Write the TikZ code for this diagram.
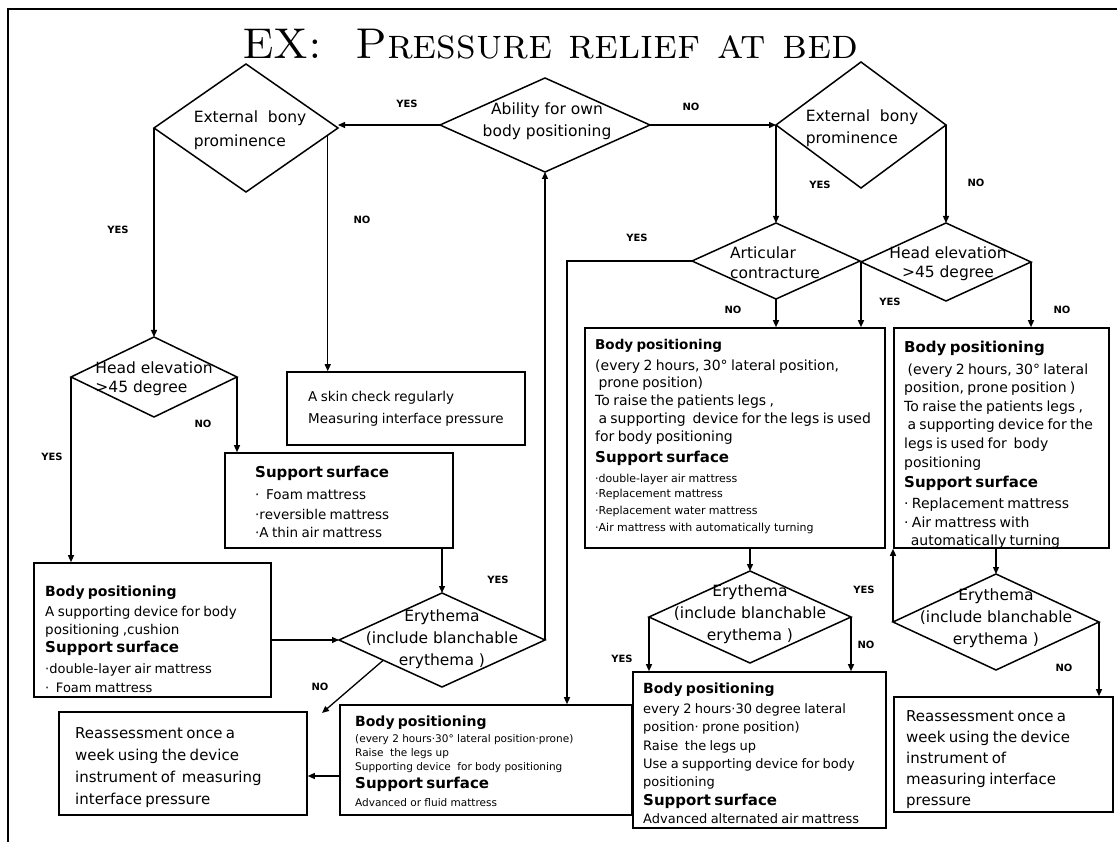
\documentclass[tikz,border=0pt]{standalone}
\usepackage{fontspec}
\setsansfont{DejaVu Sans}
\usetikzlibrary{shapes.geometric,arrows.meta,fit}
\newcommand\bline[3]{{\fontsize{#1}{#2}\selectfont #3\par}}
\begin{document}
\begin{tikzpicture}[x=1pt,y=-1pt,
  dia/.style={draw, diamond, inner sep=0pt, outer sep=0pt, line width=1.5pt},
  box/.style={draw, rectangle, inner sep=0pt, line width=1.6pt},
  txt/.style={inner sep=0pt, anchor=north west, align=left, text width=300pt, font=\sffamily},
  dtxt/.style={inner sep=0pt, font=\sffamily\fontsize{15.5}{22}\selectfont},
  lab/.style={inner sep=0pt, font=\sffamily\bfseries\fontsize{10}{12}\selectfont},
  arr/.style={line width=1.3pt, -{Triangle[length=7pt,width=6pt]}}]
\useasboundingbox (0,0) rectangle (1117,842);
% frame
\draw[line width=1.4pt] (8,842) -- (8,9) -- (1117,9);
% title
\node[inner sep=0pt, font=\rmfamily\fontsize{43}{43}\selectfont\scshape] (title) at (550,44) {EX:\ \ Pressure relief at bed};

% diamonds
\node[dia, minimum width=184pt, minimum height=128pt] (ext1) at (246,128) {};
\node[dia, minimum width=210pt, minimum height=94pt] (abil) at (545,125) {};
\node[dia, minimum width=170pt, minimum height=126pt] (ext2) at (861,125) {};
\node[dia, minimum width=168pt, minimum height=76pt] (artic) at (776,261) {};
\node[dia, minimum width=170pt, minimum height=78pt] (headR) at (946,262) {};
\node[dia, minimum width=166pt, minimum height=80pt] (headL) at (154,377) {};
\node[dia, minimum width=206pt, minimum height=94pt] (ery1) at (442,640) {};
\node[dia, minimum width=202pt, minimum height=92pt] (ery2) at (750,617) {};
\node[dia, minimum width=206pt, minimum height=96pt] (ery3) at (996,622) {};

\node[dtxt, align=left, font=\sffamily\fontsize{15.5}{24}\selectfont] (ext1t) at (250,130) {External\ \ bony\\prominence};
\node[dtxt, align=center] (abilt) at (547,121) {Ability for own\\body positioning};
\node[dtxt, align=left] (ext2t) at (862,128) {External\ \ bony\\prominence};
\node[dtxt, align=left, font=\sffamily\fontsize{15.5}{20}\selectfont] (artict) at (775,263) {Articular\\contracture};
\node[dtxt, align=center, font=\sffamily\fontsize{15.5}{19}\selectfont] (headRt) at (948,264) {Head elevation\\>45 degree};
\node[dtxt, align=left, font=\sffamily\fontsize{15.5}{19}\selectfont] (headLt) at (154,379) {Head elevation\\>45 degree};
\node[dtxt, align=center] (ery1t) at (442,639) {Erythema\\(include blanchable\\erythema )};
\node[dtxt, align=center] (ery2t) at (750,614) {Erythema\\(include blanchable\\erythema )};
\node[dtxt, align=center] (ery3t) at (996,618) {Erythema\\(include blanchable\\erythema )};

% boxes
\node[box, fit={(287,372) (525,445)}] (skin) {};
\node[box, fit={(225,453) (453,548)}] (ss1) {};
\node[box, fit={(34,563) (271,697)}] (bp1) {};
\node[box, fit={(585,328) (885,548)}] (bpmid) {};
\node[box, fit={(894,328) (1109,548)}] (bpright) {};
\node[box, fit={(59,712) (307,815)}] (reassL) {};
\node[box, fit={(340,705) (632,815)}] (bp3) {};
\node[box, fit={(633,672) (886,828)}] (bp4) {};
\node[box, fit={(894,697) (1113,812)}] (reassR) {};

% box texts
\node[txt] (skint) at (308,391) {%
\bline{13.5}{22}{A skin check regularly}
\bline{13.5}{22}{Measuring interface pressure}};
\node[txt] (ss1t) at (255,466) {%
\bline{15}{20}{\bfseries Support surface}
\bline{13.5}{22}{·\ \ Foam mattress}
\bline{13.5}{20}{·reversible mattress}
\bline{13.5}{18}{·A thin air mattress}};
\node[txt] (bp1t) at (45,586) {%
\bline{14}{18}{\bfseries Body positioning}
\bline{13.5}{20}{A supporting device for body}
\bline{13.5}{18}{positioning ,cushion}
\bline{15}{18}{\bfseries Support surface}
\bline{13}{21}{·double-layer air mattress}
\bline{13}{19}{·\ \ Foam mattress}};
\node[txt] (bpmidt) at (595,339) {%
\bline{13.5}{18}{\bfseries Body positioning}
\bline{14}{21}{(every 2 hours, 30° lateral position,}
\bline{14}{17}{\ prone position)}
\bline{14}{18}{To raise the patients legs ,}
\bline{14}{18}{\ a supporting\ \ device for the legs is used}
\bline{14}{18}{for body positioning}
\bline{15}{21}{\bfseries Support surface}
\bline{11}{20}{·double-layer air mattress}
\bline{11}{15}{·Replacement mattress}
\bline{11}{17}{·Replacement water mattress}
\bline{11}{17}{·Air mattress with automatically turning}};
\node[txt] (bprightt) at (904,341) {%
\bline{15}{20}{\bfseries Body positioning}
\bline{14}{22}{\ (every 2 hours, 30° lateral}
\bline{14}{18}{position, prone position )}
\bline{14}{19}{To raise the patients legs ,}
\bline{14}{18}{\ a supporting device for the}
\bline{14}{19}{legs is used for\ \ body}
\bline{14}{19}{positioning}
\bline{15}{19.5}{\bfseries Support surface}
\bline{14}{21}{· Replacement mattress}
\bline{14}{19}{· Air mattress with}
\bline{14}{18}{\ \ automatically turning}};
\node[txt] (bp3t) at (355,716) {%
\bline{14}{18}{\bfseries Body positioning}
\bline{10.5}{16}{(every 2 hours·30° lateral position·prone)}
\bline{10.5}{14}{Raise\ \ the legs up}
\bline{10.5}{14}{Supporting device\ \ for body positioning}
\bline{15}{18}{\bfseries Support surface}
\bline{10.5}{18}{Advanced or fluid mattress}};
\node[txt] (bp4t) at (643,683) {%
\bline{14}{18}{\bfseries Body positioning}
\bline{13}{20}{every 2 hours·30 degree lateral}
\bline{13}{18}{position· prone position)}
\bline{13}{19}{Raise\ \ the legs up}
\bline{13}{18}{Use a supporting device for body}
\bline{13}{18}{positioning}
\bline{15}{19}{\bfseries Support surface}
\bline{13}{18}{Advanced alternated air mattress}};
\node[txt] (reassLt) at (75,727) {%
\bline{15}{22}{Reassessment once a}
\bline{15}{22}{week using the device}
\bline{15}{22}{instrument of\ \ measuring}
\bline{15}{22}{interface pressure}};
\node[txt] (reassRt) at (906,710) {%
\bline{15}{21}{Reassessment once a}
\bline{15}{21}{week using the device}
\bline{15}{21}{instrument of}
\bline{15}{21}{measuring interface}
\bline{15}{21}{pressure}};

% connectors
\draw[arr] (abil.west) -- (abil.west -| ext1.east);
\draw[arr] (abil.east) -- (ext2.west);
\draw[arr] (ext1.west) -- (headL.north);
\draw[arr] (ext1.-5) -- (ext1.-5 |- skin.north);
\draw[arr] (headL.west) -- (headL.west |- bp1.north);
\draw[arr] (headL.east) -- (headL.east |- ss1.north);
\draw[arr] (ss1.south -| ery1.north) -- (ery1.north);
\draw[arr] (bp1.east |- ery1.west) -- (ery1.west);
\draw[arr] (ery1.east) -- (ery1.east |- abil.south);
\coordinate (noend) at (322,713);
\draw[arr] (ery1.199) -- (noend);
\draw[arr] (bp3.west |- 0,776) -- (reassL.east |- 0,776);
\draw[arr] (artic.west) -- (artic.west -| 567,0) -- (567,0 |- bp3.north);
\draw[arr] (artic.south) -- (artic.south |- bpmid.north);
\draw[arr] (ext2.west) -- (artic.north);
\draw[arr] (ext2.east) -- (headR.north);
\draw[arr] (headR.west) -- (headR.west |- bpmid.north);
\draw[arr] (headR.east) -- (headR.east |- bpright.north);
\draw[arr] (bpmid.south -| ery2.north) -- (ery2.north);
\draw[arr] (ery2.west) -- (ery2.west |- bp4.north);
\draw[arr] (ery2.east) -- (ery2.east |- bp4.north);
\draw[arr] (bpright.south -| ery3.north) -- (ery3.north);
\draw[arr] (ery3.west) -- (ery3.west |- bpright.south);
\draw[arr] (ery3.east) -- (ery3.east |- reassR.north);

% labels
\node[lab] (y1) at (407,104) {YES};
\node[lab] (y2) at (118,230) {YES};
\node[lab] (y3) at (52,457) {YES};
\node[lab] (y4) at (498,580) {YES};
\node[lab] (y5) at (637,238) {YES};
\node[lab] (y6) at (820,185) {YES};
\node[lab] (y7) at (890,302) {YES};
\node[lab] (y8) at (622,659) {YES};
\node[lab] (y9) at (864,590) {YES};
\node[lab] (n1) at (691,107) {NO};
\node[lab] (n2) at (362,220) {NO};
\node[lab] (n3) at (203,424) {NO};
\node[lab] (n4) at (320,687) {NO};
\node[lab] (n5) at (733,310) {NO};
\node[lab] (n6) at (976,183) {NO};
\node[lab] (n7) at (1062,310) {NO};
\node[lab] (n8) at (866,645) {NO};
\node[lab] (n9) at (1064,668) {NO};
\end{tikzpicture}
\end{document}
